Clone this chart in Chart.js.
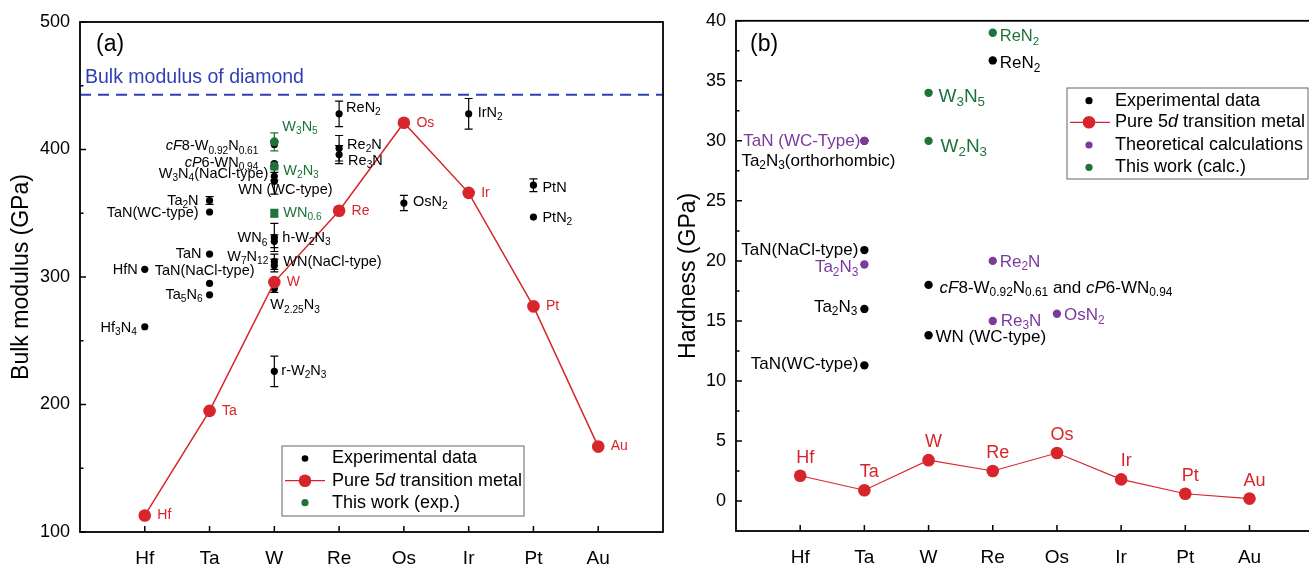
<!DOCTYPE html>
<html>
<head>
<meta charset="utf-8">
<script src="https://cdn.jsdelivr.net/npm/chart.js@4.4.1/dist/chart.umd.min.js"></script>
<style>
  html, body { margin: 0; padding: 0; background: #fff; overflow: hidden; width: 1309px; height: 565px; }
  #wrap { position: relative; width: 1309px; height: 565px; overflow: hidden; }
  canvas { position: absolute; top: 0; }
  #bulk { left: 0; }
  #hard { left: 670px; }
</style>
</head>
<body>
<div id="wrap">
  <canvas id="bulk" width="680" height="565"></canvas>
  <canvas id="hard" width="650" height="565"></canvas>
</div>
<script>
// ---- data ----
const metals = ['Hf', 'Ta', 'W', 'Re', 'Os', 'Ir', 'Pt', 'Au'];
const metalBulk = [113, 195, 296, 352, 421, 366, 277, 167];
const metalHardness = [2.1, 0.9, 3.4, 2.5, 4.0, 1.8, 0.6, 0.2];
const diamondBulk = 443;
const bulkTicks = [100, 200, 300, 400, 500];
const hardnessTicks = [0, 5, 10, 15, 20, 25, 30, 35, 40];

// (a) experimental bulk moduli (GPa)
const bulkExpNames = ['HfN', 'Hf_{3}N_{4}', 'Ta_{2}N', 'TaN(WC-type)', 'TaN', 'TaN(NaCl-type)', 'Ta_{5}N_{6}',
  '*cF*8-W_{0.92}N_{0.61}', '*cP*6-WN_{0.94}', 'W_{3}N_{4}(NaCl-type)', 'WN (WC-type)', 'WN_{6}', 'h-W_{2}N_{3}',
  'W_{7}N_{12}', 'WN(NaCl-type)', 'W_{2.25}N_{3}', 'r-W_{2}N_{3}', 'ReN_{2}', 'Re_{2}N', 'Re_{3}N',
  'OsN_{2}', 'IrN_{2}', 'PtN', 'PtN_{2}'];
const bulkExpMetal = [0, 0, 1, 1, 1, 1, 1, 2, 2, 2, 2, 2, 2, 2, 2, 2, 2, 3, 3, 3, 4, 5, 6, 6];
const bulkExpValues = [306, 261, 360, 351, 318, 295, 286, 404, 389, 379, 375, 331, 328, 312, 309, 291, 226,
  428, 401, 396, 358, 428, 372, 347];
const bulkExpErrors = [0, 0, 3, 0, 0, 0, 0, 0, 0, 3, 10, 11, 5, 6, 5, 3, 12, 10, 10, 7, 6, 12, 5, 0];

// (a) this work (exp.)
const bulkWorkNames = ['W_{3}N_{5}', 'W_{2}N_{3}', 'WN_{0.6}'];
const bulkWorkMetal = [2, 2, 2];
const bulkWorkValues = [406, 387, 350];
const bulkWorkErrors = [7, 3, 3];

// (b) hardness (GPa)
const hardExpNames = ['TaN(NaCl-type)', 'Ta_{2}N_{3}', 'TaN(WC-type)', 'Ta_{2}N_{3}(orthorhombic)',
  '*cF*8-W_{0.92}N_{0.61} and *cP*6-WN_{0.94}', 'WN (WC-type)', 'ReN_{2}'];
const hardExpMetal = [1, 1, 1, 1, 2, 2, 3];
const hardExpValues = [20.9, 16.0, 11.3, 30.0, 18.0, 13.8, 36.7];

const hardCalcNames = ['TaN (WC-Type)', 'Ta_{2}N_{3}', 'Re_{2}N', 'Re_{3}N', 'OsN_{2}'];
const hardCalcMetal = [1, 1, 3, 3, 4];
const hardCalcValues = [30.0, 19.7, 20.0, 15.0, 15.6];

const hardWorkNames = ['W_{3}N_{5}', 'W_{2}N_{3}', 'ReN_{2}'];
const hardWorkMetal = [2, 2, 3];
const hardWorkValues = [34.0, 30.0, 39.0];

// ---- label placement (pixel offsets from the point: dx, dy, align) ----
const bulkExpLabelPos = [[-7, 1, 'right'], [-8, 1, 'right'], [-11, 0, 'right'], [-11, 1, 'right'], [-8, 0, 'right'],
  [45, -12, 'right'], [-7, 0, 'right'], [-16, 2, 'right'], [-16, -1, 'right'], [-6, -2, 'right'], [-36, 9, 'left'],
  [-7, 1, 'right'], [8, -3, 'left'], [-6, -5, 'right'], [9, -4, 'left'], [-4, 17, 'left'], [7, 0, 'left'],
  [7, -6, 'left'], [8, -3, 'left'], [9, 6, 'left'], [9, -1, 'left'], [9, -1, 'left'], [9, 3, 'left'], [9, 1, 'left']];
const bulkWorkLabelPos = [[8, -15, 'left'], [9, 5, 'left'], [9, 0, 'left']];
const hardExpLabelPos = [[-6, 0, 'right'], [-7, -2, 'right'], [-6, -1, 'right'], [-123, 20, 'left'],
  [11, 3, 'left'], [7, 2, 'left'], [7, 3, 'left']];
const hardCalcLabelPos = [[-4, 0, 'right'], [-6, 3, 'right'], [7, 1, 'left'], [8, 0, 'left'], [7, 2, 'left']];
const hardWorkLabelPos = [[10, 4, 'left'], [12, 6, 'left'], [7, 4, 'left']];

const FONT = '"Liberation Sans", Arial, Helvetica, sans-serif';
const RED = '#d7262b';
const GREEN = '#1e7338';
const PURPLE = '#7b3a9c';
const BLUE = '#2f3fb5';

const pts = (idx, vals) => vals.map((v, i) => ({ x: idx[i], y: v }));

// ---- rich text: _{sub} and *italic* ----
function parseRich(str) {
  const segs = [];
  let italic = false, buf = '', i = 0;
  const push = (t, sub) => { if (t) segs.push({ t, sub, italic }); };
  while (i < str.length) {
    const c = str[i];
    if (c === '*') { push(buf, false); buf = ''; italic = !italic; i++; }
    else if (c === '_' && str[i + 1] === '{') {
      push(buf, false); buf = '';
      const j = str.indexOf('}', i);
      push(str.slice(i + 2, j), true);
      i = j + 1;
    } else { buf += c; i++; }
  }
  push(buf, false);
  return segs;
}

function drawRich(ctx, str, x, y, size, color, align) {
  const segs = parseRich(str);
  const fontFor = s => (s.italic ? 'italic ' : '') + (s.sub ? size * 0.7 : size) + 'px ' + FONT;
  let w = 0;
  segs.forEach(s => { ctx.font = fontFor(s); s.w = ctx.measureText(s.t).width; w += s.w; });
  let cx = align === 'right' ? x - w : align === 'center' ? x - w / 2 : x;
  ctx.fillStyle = color;
  ctx.textBaseline = 'middle';
  ctx.textAlign = 'left';
  segs.forEach(s => {
    ctx.font = fontFor(s);
    ctx.fillText(s.t, cx, s.sub ? y + size * 0.3 : y);
    cx += s.w;
  });
}

function drawLabels(chart, names, idx, vals, pos, color, size) {
  const { ctx, scales: { x, y } } = chart;
  names.forEach((n, i) => {
    const px = x.getPixelForValue(idx[i]);
    const py = y.getPixelForValue(vals[i]);
    drawRich(ctx, n, px + pos[i][0], py + pos[i][1], size, color, pos[i][2]);
  });
}

function drawErrors(chart, idx, vals, errs, color) {
  const { ctx, scales: { x, y } } = chart;
  ctx.save();
  ctx.strokeStyle = color;
  ctx.lineWidth = 1.2;
  vals.forEach((v, i) => {
    if (!errs[i]) return;
    const px = x.getPixelForValue(idx[i]);
    const top = y.getPixelForValue(v + errs[i]);
    const bot = y.getPixelForValue(v - errs[i]);
    ctx.beginPath();
    ctx.moveTo(px, top); ctx.lineTo(px, bot);
    ctx.moveTo(px - 4, top); ctx.lineTo(px + 4, top);
    ctx.moveTo(px - 4, bot); ctx.lineTo(px + 4, bot);
    ctx.stroke();
  });
  ctx.restore();
}

function drawFrame(chart, ticks, minorStep) {
  const { ctx, chartArea: a, scales: { x, y } } = chart;
  ctx.save();
  ctx.strokeStyle = '#000';
  ctx.lineWidth = 1.8;
  ctx.strokeRect(a.left, a.top, a.right - a.left, a.bottom - a.top);
  ctx.lineWidth = 1.5;
  ctx.beginPath();
  metals.forEach((m, i) => {
    const px = x.getPixelForValue(i);
    ctx.moveTo(px, a.bottom); ctx.lineTo(px, a.bottom - 6);
  });
  ticks.forEach(v => {
    const py = y.getPixelForValue(v);
    ctx.moveTo(a.left, py); ctx.lineTo(a.left + 6, py);
    const pm = y.getPixelForValue(v + minorStep);
    if (pm > a.top + 1) { ctx.moveTo(a.left, pm); ctx.lineTo(a.left + 3.5, pm); }
  });
  ctx.stroke();
  ctx.restore();
}

function drawYTitle(ctx, text, cx, cy) {
  ctx.save();
  ctx.translate(cx, cy);
  ctx.rotate(-Math.PI / 2);
  ctx.font = '23px ' + FONT;
  ctx.fillStyle = '#000';
  ctx.textAlign = 'center';
  ctx.textBaseline = 'middle';
  ctx.fillText(text, 0, 0);
  ctx.restore();
}

function drawLegend(ctx, box, markX, textX, line, items) {
  ctx.save();
  ctx.fillStyle = '#fff';
  ctx.fillRect(box[0], box[1], box[2] - box[0], box[3] - box[1]);
  ctx.strokeStyle = '#666';
  ctx.lineWidth = 1;
  ctx.strokeRect(box[0], box[1], box[2] - box[0], box[3] - box[1]);
  items.forEach(it => {
    if (it.line) {
      ctx.strokeStyle = it.color;
      ctx.lineWidth = 1.2;
      ctx.beginPath(); ctx.moveTo(line[0], it.y); ctx.lineTo(line[1], it.y); ctx.stroke();
    }
    ctx.fillStyle = it.color;
    ctx.beginPath(); ctx.arc(markX, it.y, it.r, 0, Math.PI * 2); ctx.fill();
    drawRich(ctx, it.text, textX, it.y, 18, '#000', 'left');
  });
  ctx.restore();
}

function xScale(height) {
  return {
    type: 'linear', min: -1, max: 8,
    afterBuildTicks: s => { s.ticks = metals.map((m, i) => ({ value: i })); },
    afterFit: s => { s.height = height; },
    grid: { display: false, drawTicks: false }, border: { display: false },
    ticks: { callback: v => metals[v], font: { family: FONT, size: 19 }, color: '#000', padding: 15, maxRotation: 0, autoSkip: false }
  };
}

function yScale(min, max, ticks, width) {
  return {
    type: 'linear', min, max,
    afterBuildTicks: s => { s.ticks = ticks.map(v => ({ value: v })); },
    afterFit: s => { s.width = width; },
    grid: { display: false, drawTicks: false }, border: { display: false },
    ticks: { font: { family: FONT, size: 18 }, color: '#000', padding: 10 }
  };
}

// ---- (a) bulk modulus ----
const bulkDecor = {
  id: 'bulkDecor',
  beforeDatasetsDraw(chart) {
    drawErrors(chart, bulkExpMetal, bulkExpValues, bulkExpErrors, '#000');
    drawErrors(chart, bulkWorkMetal, bulkWorkValues, bulkWorkErrors, GREEN);
  },
  afterDatasetsDraw(chart) {
    const { ctx, chartArea: a, scales: { y } } = chart;
    drawFrame(chart, bulkTicks, 50);
    drawLabels(chart, bulkExpNames, bulkExpMetal, bulkExpValues, bulkExpLabelPos, '#000', 14.5);
    drawLabels(chart, bulkWorkNames, bulkWorkMetal, bulkWorkValues, bulkWorkLabelPos, GREEN, 14.5);
    drawLabels(chart, metals, metals.map((m, i) => i), metalBulk, metals.map(() => [12.5, 0, 'left']), RED, 14);
    drawRich(ctx, 'Bulk modulus of diamond', a.left + 5, y.getPixelForValue(diamondBulk) - 17, 19.5, BLUE, 'left');
    drawRich(ctx, '(a)', a.left + 16, 45, 23, '#000', 'left');
    drawYTitle(ctx, 'Bulk modulus (GPa)', 22, (a.top + a.bottom) / 2);
    drawLegend(ctx, [282, 446, 524, 516], 305, 332, [285, 325], [
      { text: 'Experimental data', color: '#000', r: 3.3, y: 458.5 },
      { text: 'Pure 5*d* transition metal', color: RED, r: 6.3, y: 480.7, line: true },
      { text: 'This work (exp.)', color: GREEN, r: 3.6, y: 502.7 }
    ]);
  }
};

new Chart(document.getElementById('bulk'), {
  type: 'scatter',
  data: {
    datasets: [
      { type: 'line', data: pts(metals.map((m, i) => i), metalBulk), borderColor: RED, backgroundColor: RED,
        borderWidth: 1.5, pointRadius: 6.3, pointBackgroundColor: RED, pointBorderWidth: 0 },
      { data: pts(bulkWorkMetal, bulkWorkValues), backgroundColor: GREEN, borderWidth: 0,
        pointStyle: ['circle', 'circle', 'rect'], pointRadius: [4.5, 4.5, 5.7] },
      { data: pts(bulkExpMetal, bulkExpValues), backgroundColor: '#000', borderWidth: 0, pointRadius: 3.6 },
      { type: 'line', data: [{ x: -1, y: diamondBulk }, { x: 8, y: diamondBulk }], borderColor: BLUE,
        borderWidth: 2, borderDash: [11, 7], pointRadius: 0 }
    ]
  },
  options: {
    responsive: false, animation: false, devicePixelRatio: 1,
    layout: { padding: { left: 0, right: 17, top: 22, bottom: 0 } },
    plugins: { legend: { display: false }, tooltip: { enabled: false } },
    scales: { x: xScale(33), y: yScale(100, 500, bulkTicks, 80) }
  },
  plugins: [bulkDecor]
});

// ---- (b) hardness ----
const hardDecor = {
  id: 'hardDecor',
  afterDatasetsDraw(chart) {
    const { ctx, chartArea: a } = chart;
    drawFrame(chart, hardnessTicks, 2.5);
    drawLabels(chart, hardExpNames, hardExpMetal, hardExpValues, hardExpLabelPos, '#000', 17);
    drawLabels(chart, hardCalcNames, hardCalcMetal, hardCalcValues, hardCalcLabelPos, PURPLE, 17);
    drawLabels(chart, hardWorkNames.slice(0, 2), hardWorkMetal, hardWorkValues, hardWorkLabelPos, GREEN, 19);
    drawLabels(chart, hardWorkNames.slice(2), hardWorkMetal.slice(2), hardWorkValues.slice(2), hardWorkLabelPos.slice(2), GREEN, 16.5);
    drawLabels(chart, metals, metals.map((m, i) => i), metalHardness, metals.map(() => [5, -18, 'center']), RED, 18);
    drawRich(ctx, '(b)', a.left + 14, 45, 23, '#000', 'left');
    drawYTitle(ctx, 'Hardness (GPa)', 19, (a.top + a.bottom) / 2);
    drawLegend(ctx, [397, 88, 638, 179], 419, 445, [400, 440], [
      { text: 'Experimental data', color: '#000', r: 3.6, y: 100.7 },
      { text: 'Pure 5*d* transition metal', color: RED, r: 6.3, y: 122.3, line: true },
      { text: 'Theoretical calculations', color: PURPLE, r: 3.6, y: 145 },
      { text: 'This work (calc.)', color: GREEN, r: 3.6, y: 167.3 }
    ]);
  }
};

new Chart(document.getElementById('hard'), {
  type: 'scatter',
  data: {
    datasets: [
      { type: 'line', data: pts(metals.map((m, i) => i), metalHardness), borderColor: RED, backgroundColor: RED,
        borderWidth: 1.1, pointRadius: 6.3, pointBackgroundColor: RED, pointBorderWidth: 0 },
      { data: pts(hardWorkMetal, hardWorkValues), backgroundColor: GREEN, borderWidth: 0, pointRadius: 4.2 },
      { data: pts(hardCalcMetal, hardCalcValues), backgroundColor: PURPLE, borderWidth: 0, pointRadius: 4.2 },
      { data: pts(hardExpMetal, hardExpValues), backgroundColor: '#000', borderWidth: 0, pointRadius: 4.2 }
    ]
  },
  options: {
    responsive: false, animation: false, devicePixelRatio: 1,
    layout: { padding: { left: 0, right: 1, top: 20, bottom: 0 } },
    plugins: { legend: { display: false }, tooltip: { enabled: false } },
    scales: { x: xScale(34), y: yScale(-2.5, 40, hardnessTicks, 66) }
  },
  plugins: [hardDecor]
});
</script>
</body>
</html>
